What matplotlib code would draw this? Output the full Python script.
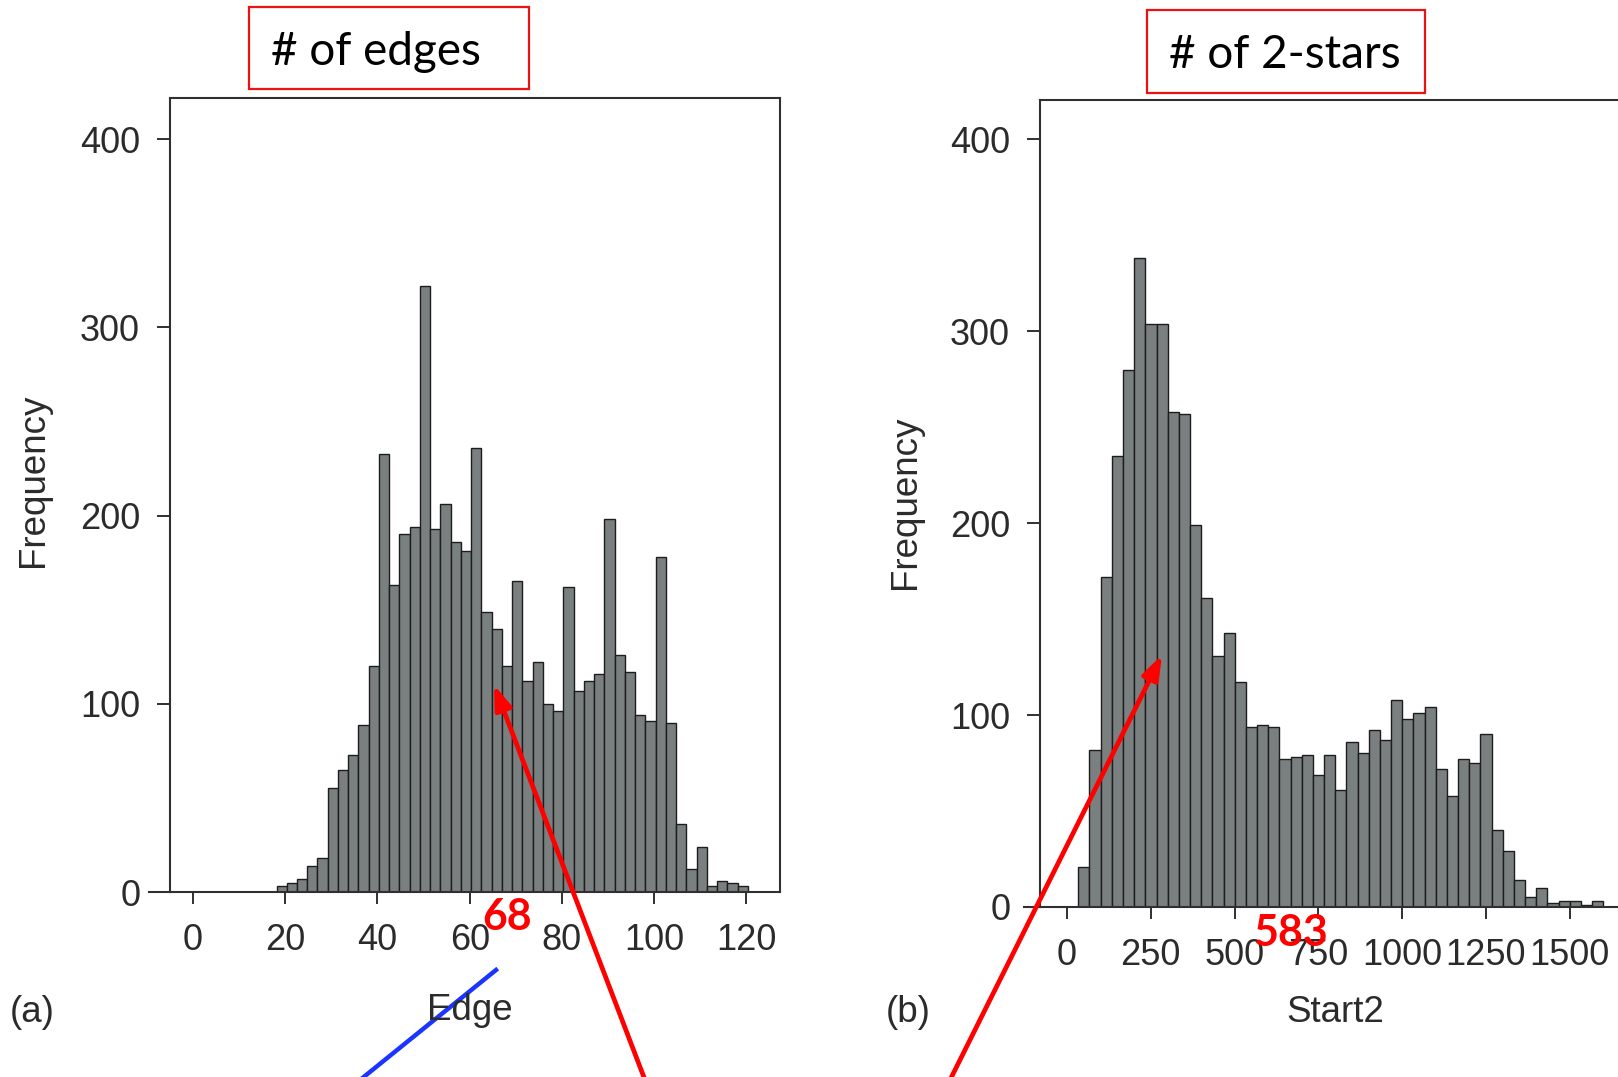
import numpy as np
import matplotlib
matplotlib.use("Agg")
import matplotlib.pyplot as plt
from matplotlib.patches import Rectangle, FancyArrowPatch
from matplotlib.lines import Line2D

# ---- data -------------------------------------------------------------
edge_bin_start = 18.1
edge_bin_width = 2.222
edge_counts = [3, 5, 7, 14, 18, 55, 65, 73, 89, 120,
               233, 163, 190, 194, 322, 193, 206, 186, 181, 236,
               149, 140, 120, 165, 112, 122, 100, 96, 162, 107,
               112, 116, 198, 126, 117, 94, 91, 178, 90, 36,
               12, 24, 3, 6, 5, 3]
edge_xticks = [0, 20, 40, 60, 80, 100, 120]

star_bin_start = 33.7
star_bin_width = 33.33
star_counts = [21, 82, 172, 235, 280, 338, 304, 304, 258, 257,
               199, 161, 131, 143, 117, 94, 95, 94, 77, 78,
               79, 69, 79, 61, 86, 80, 92, 87, 108, 98,
               101, 104, 72, 58, 77, 75, 90, 40, 29, 14,
               5, 10, 2, 3, 3, 1, 3]
star_xticks = [0, 250, 500, 750, 1000, 1250, 1500]

freq_ticks = [0, 100, 200, 300, 400]
edge_observed = 68
star_observed = 583

# ---- figure -----------------------------------------------------------
W, H = 1618, 1077
fig = plt.figure(figsize=(W / 100, H / 100), dpi=100)
fig.patch.set_facecolor("white")

AX_FONT = "Liberation Sans"
NOTE_FONT = "Lato"
INK = "#2b2b2b"
BAR_FACE = "#7a7f80"
BAR_EDGE = "#1d1d1d"
TICK_SIZE = 26
LABEL_SIZE = 26.5


def fx(px):
    return px / W


def fy(py):
    return 1 - py / H


def style_axes(ax, xticks, xlim, ylim, line_from):
    ax.set_xlim(*xlim)
    ax.set_ylim(*ylim)
    ax.set_xticks(xticks)
    ax.set_xticklabels([str(t) for t in xticks])
    ax.set_yticks(freq_ticks)
    ax.set_yticklabels([str(t) for t in freq_ticks])
    for s in ax.spines.values():
        s.set_color("#303030")
        s.set_linewidth(1.5)
    ax.tick_params(axis="y", direction="out", length=9.5, width=1.4,
                   color="#303030", pad=12, labelsize=TICK_SIZE,
                   labelcolor=INK)
    ax.tick_params(axis="x", direction="out", length=8.5, width=1.4,
                   color="#303030", pad=14, labelsize=TICK_SIZE,
                   labelcolor=INK)
    for lab in ax.get_xticklabels() + ax.get_yticklabels():
        lab.set_fontfamily(AX_FONT)
    # baseline continues a little to the left of the frame
    ax.add_line(Line2D([line_from, xlim[0]], [0, 0], color="#303030",
                       lw=1.5, clip_on=False))


# left panel: number of edges
ax1 = fig.add_axes([fx(170), fy(892), fx(780 - 170), (892 - 98) / H])
e_edges = edge_bin_start + edge_bin_width * np.arange(len(edge_counts) + 1)
ax1.bar(e_edges[:-1], edge_counts, width=edge_bin_width, align="edge",
        color=BAR_FACE, edgecolor=BAR_EDGE, linewidth=1.0)
style_axes(ax1, edge_xticks, (-5.0, 127.3), (0, 421.9), -9.5)

# right panel: number of 2-stars (frame runs past the page edge)
ax2 = fig.add_axes([fx(1040), fy(907), fx(1800 - 1040), (907 - 100) / H])
s_edges = star_bin_start + star_bin_width * np.arange(len(star_counts) + 1)
ax2.bar(s_edges[:-1], star_counts, width=star_bin_width, align="edge",
        color=BAR_FACE, edgecolor=BAR_EDGE, linewidth=1.0)
style_axes(ax2, star_xticks, (-80.6, 2187), (0, 420.5), -128)

# axis titles and panel tags
fig.text(fx(33), fy(480), "Frequency", rotation=90, ha="center",
         va="center", fontsize=LABEL_SIZE, family=AX_FONT, color=INK)
fig.text(fx(905), fy(502), "Frequency", rotation=90, ha="center",
         va="center", fontsize=LABEL_SIZE, family=AX_FONT, color=INK)
fig.text(fx(470), fy(1011), "Edge", ha="center", va="center",
         fontsize=LABEL_SIZE, family=AX_FONT, color=INK)
fig.text(fx(1335), fy(1012), "Start2", ha="center", va="center",
         fontsize=LABEL_SIZE, family=AX_FONT, color=INK)
fig.text(fx(32), fy(1012), "(a)", ha="center", va="center",
         fontsize=LABEL_SIZE, family=AX_FONT, color=INK)
fig.text(fx(908), fy(1012), "(b)", ha="center", va="center",
         fontsize=LABEL_SIZE, family=AX_FONT, color=INK)

# boxed headings
for (x0, y0, x1, y1, tx, label) in [
        (249, 7, 529, 89, 271, "# of edges"),
        (1147, 10, 1425, 93, 1169, "# of 2-stars")]:
    fig.patches.append(Rectangle((fx(x0), fy(y1)), fx(x1 - x0),
                                 (y1 - y0) / H, transform=fig.transFigure,
                                 fill=False, edgecolor="#ee1111",
                                 linewidth=1.6))
    fig.text(fx(tx), fy((y0 + y1) / 2 + 4), label, ha="left",
             va="center", fontsize=33, family=NOTE_FONT, color="black")

# observed statistics
ax1.text(edge_observed, -13.5, str(edge_observed), ha="center",
         va="center", fontsize=31, fontweight="bold", family=NOTE_FONT,
         color="#ff0000", clip_on=False)
ax2.text(668, -13.5, str(star_observed), ha="center", va="center",
         fontsize=31, fontweight="bold", family=NOTE_FONT,
         color="#ff0000", clip_on=False)

# pointer arrows and stroke
for (x0, y0, x1, y1) in [(645, 1080, 494, 685), (950, 1080, 1162, 655)]:
    fig.patches.append(FancyArrowPatch(
        (fx(x0), fy(y0)), (fx(x1), fy(y1)), transform=fig.transFigure,
        arrowstyle="-|>,head_length=9,head_width=3.2", mutation_scale=1.6,
        color="#ff0000", linewidth=3.4, shrinkA=0, shrinkB=0))
fig.lines.append(Line2D([fx(496), fx(360)], [fy(970), fy(1080)],
                        transform=fig.transFigure, color="#1a35ff",
                        linewidth=3.2))

fig.savefig("out.png", dpi=100, facecolor="white")
